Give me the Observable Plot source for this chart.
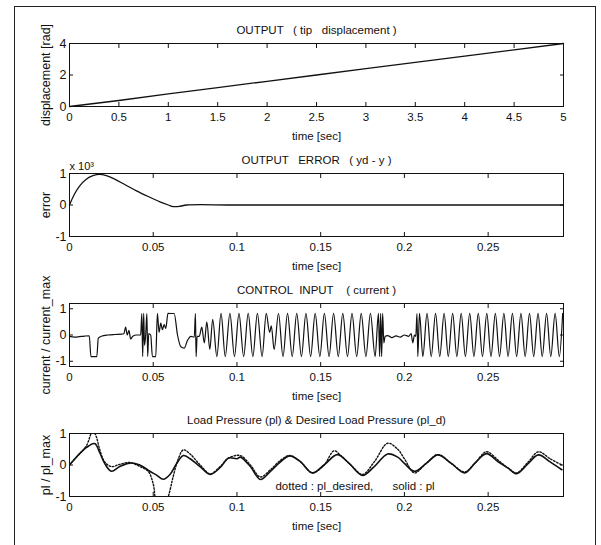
<!DOCTYPE html>
<html><head><meta charset="utf-8">
<script src="https://cdn.jsdelivr.net/npm/d3@7"></script>
<script src="https://cdn.jsdelivr.net/npm/@observablehq/plot@0.6"></script>
<style>
body{margin:0;background:#fff;}
#wrap{position:relative;width:601px;height:545px;overflow:hidden;font-family:"Liberation Sans",Arial,sans-serif;}
#border{position:absolute;left:14px;top:6px;width:580px;height:560px;border:1px solid #222;}
.panel{position:absolute;left:0;}
.panel svg{overflow:visible;}
svg text{white-space:pre;}
</style></head><body><div id="wrap"><div id="border"></div></div>
<script>
// ---------- Panel 1: OUTPUT (tip displacement) ----------
const dispT = [0, 0.5, 1, 1.5, 2, 2.5, 3, 3.5, 4, 4.5, 5];
const dispV = [0, 0.38, 0.8, 1.2, 1.6, 2.0, 2.4, 2.8, 3.2, 3.6, 4.0];
const dispXTicks = [0, 0.5, 1, 1.5, 2, 2.5, 3, 3.5, 4, 4.5, 5];
const dispYTicks = [0, 2, 4];

// ---------- Panel 2: OUTPUT ERROR (yd - y), x 10^-3 ----------
const errT = [0, 0.003, 0.006, 0.01, 0.014, 0.018, 0.022, 0.027, 0.033, 0.04, 0.047, 0.054, 0.059, 0.062, 0.066, 0.07, 0.1, 0.2, 0.295];
const errV = [0, 0.35, 0.6, 0.82, 0.93, 0.97, 0.93, 0.82, 0.65, 0.45, 0.27, 0.1, 0.0, -0.05, -0.04, 0, 0, 0, 0];

// ---------- Panel 3: CONTROL INPUT (current) ----------
const ctrlT = [
  0, 0.003, 0.006, 0.009, 0.0118, 0.0128, 0.0163, 0.0172, 0.019, 0.023, 0.027, 0.031,
  0.0325, 0.0335, 0.0345, 0.0355, 0.0365, 0.0378, 0.040, 0.0425,
  0.0432, 0.0437, 0.0443, 0.0448, 0.0455, 0.0462, 0.0467, 0.0473, 0.0485,
  0.0495, 0.0515, 0.0525, 0.0535, 0.0545, 0.0555, 0.0565, 0.0575, 0.0588, 0.0625,
  0.0645, 0.0665, 0.0685, 0.0705, 0.0725, 0.0745, 0.0752, 0.0756, 0.0762, 0.0775,
  0.079, 0.0805, 0.082, 0.0838, 0.0855,
  0.0880, 0.0905, 0.0930, 0.0958, 0.0985, 0.1012, 0.1040, 0.1067, 0.1095, 0.1122, 0.1150, 0.1175,
  0.1195, 0.1205, 0.1222, 0.1248, 0.1275, 0.1302, 0.1330, 0.1357, 0.1385, 0.1412, 0.1440,
  0.1467, 0.1495, 0.1522, 0.1550, 0.1577, 0.1605, 0.1632, 0.1660, 0.1687, 0.1715, 0.1742,
  0.1770, 0.1797, 0.1825, 0.1845, 0.1852, 0.1858, 0.1864, 0.1870, 0.1877, 0.1885,
  0.190, 0.1925, 0.195, 0.1975, 0.200, 0.2025, 0.2040, 0.2050, 0.2060, 0.2068,
  0.2075, 0.2080, 0.2090, 0.2110, 0.2135, 0.2160, 0.2186, 0.2211, 0.2237, 0.2262, 0.2288,
  0.2313, 0.2339, 0.2364, 0.2390, 0.2415, 0.2441, 0.2466, 0.2492, 0.2517, 0.2543, 0.2568,
  0.2594, 0.2619, 0.2645, 0.2670, 0.2696, 0.2721, 0.2747, 0.2772, 0.2798, 0.2823, 0.2849,
  0.2874, 0.2900, 0.2925, 0.2945
];
const ctrlV = [
  -0.05, -0.08, -0.06, -0.04, -0.03, -0.82, -0.82, -0.12, -0.05, 0.0, 0.02, 0.03,
  0.05, 0.3, 0.0, 0.18, -0.15, -0.05, 0.0, 0.0,
  0.82, -0.82, 0.82, -0.4, 0.0, 0.82, -0.82, 0.05, 0.0,
  -0.82, -0.82, 0.82, 0.1, 0.45, 0.2, 0.4, 0.25, 0.82, 0.82,
  0.0, -0.45, -0.5, -0.2, -0.05, -0.08, 0.82, -0.82, -0.05, -0.05,
  0.3, -0.3, 0.5, -0.55, 0.6,
  -0.82, 0.82, -0.82, 0.82, -0.82, 0.82, -0.82, 0.82, -0.82, 0.82, -0.82, 0.82,
  0.1, 0.35, -0.55, 0.82, -0.82, 0.82, -0.82, 0.82, -0.82, 0.82, -0.82,
  0.82, -0.82, 0.82, -0.82, 0.82, -0.82, 0.82, -0.82, 0.82, -0.82, 0.82,
  -0.82, 0.82, -0.82, 0.82, -0.82, 0.82, -0.82, 0.82, -0.3, -0.05,
  -0.02, -0.1, -0.03, -0.08, 0.0, -0.05, 0.05, -0.3, 0.0, -0.05,
  0.82, -0.82, 0.82, -0.82, 0.82, -0.82, 0.82, -0.82, 0.82, -0.82, 0.82,
  -0.82, 0.82, -0.82, 0.82, -0.82, 0.82, -0.82, 0.82, -0.82, 0.82, -0.82,
  0.82, -0.82, 0.82, -0.82, 0.82, -0.82, 0.82, -0.82, 0.82, -0.82, 0.82,
  -0.82, 0.82, -0.82, 0.82
];

// ---------- Panel 4: Load pressure ----------
const plT = [0, 0.005, 0.01, 0.015, 0.018, 0.021, 0.025, 0.03, 0.036, 0.042, 0.048, 0.052, 0.056, 0.06, 0.064, 0.068, 0.072, 0.078, 0.084, 0.09, 0.095, 0.1, 0.102, 0.108, 0.114, 0.12, 0.126, 0.1315, 0.138, 0.145, 0.152, 0.16, 0.167, 0.175, 0.182, 0.19, 0.196, 0.2, 0.206, 0.213, 0.22, 0.228, 0.236, 0.242, 0.249, 0.256, 0.262, 0.267, 0.274, 0.28, 0.287, 0.294];
const plV = [0, 0.3, 0.55, 0.68, 0.4, 0.05, -0.2, -0.05, 0.06, 0.0, -0.2, -0.32, -0.45, -0.3, 0.05, 0.3, 0.2, -0.05, -0.3, -0.08, 0.22, 0.2, 0.25, -0.05, -0.46, -0.2, 0.1, 0.29, 0.1, -0.25, 0.0, 0.33, 0.05, -0.33, -0.05, 0.35, 0.25, 0.05, -0.2, 0.05, 0.32, 0.05, -0.25, 0.05, 0.36, 0.1, -0.1, -0.28, 0.05, 0.32, 0.1, -0.15];
const pldT = [0, 0.005, 0.01, 0.014, 0.016, 0.018, 0.021, 0.025, 0.03, 0.036, 0.042, 0.047, 0.05, 0.052, 0.056, 0.059, 0.062, 0.065, 0.068, 0.072, 0.078, 0.084, 0.09, 0.095, 0.102, 0.108, 0.114, 0.12, 0.126, 0.1315, 0.138, 0.145, 0.152, 0.158, 0.162, 0.168, 0.175, 0.182, 0.19, 0.196, 0.2, 0.206, 0.213, 0.22, 0.228, 0.236, 0.242, 0.249, 0.256, 0.262, 0.267, 0.274, 0.28, 0.287, 0.294];
const pldV = [0, 0.3, 0.6, 1.1, 0.9, 0.5, 0.1, -0.05, 0.02, 0.08, -0.05, -0.2, -0.6, -1.2, -1.4, -1.0, -0.35, 0.2, 0.48, 0.35, 0.0, -0.28, -0.05, 0.22, 0.3, 0.0, -0.38, -0.15, 0.15, 0.3, 0.1, -0.25, 0.0, 0.45, 0.3, 0.0, -0.3, 0.1, 0.69, 0.5, 0.2, -0.25, 0.05, 0.33, 0.05, -0.22, 0.05, 0.42, 0.15, -0.1, -0.25, 0.1, 0.42, 0.2, 0.0];
const plNote = {t: 0.123, v: -0.68, s: "dotted : pl_desired,      solid : pl"};

const timeTicks = [0, 0.05, 0.1, 0.15, 0.2, 0.25];
const unitTicks = [-1, 0, 1];

const FONT = '"Liberation Sans", Arial, sans-serif';
const zip = (T, V) => T.map((t, i) => ({t, v: V[i]}));
const fmt = d => String(d);

function panel(top, {title, xDomain, xTicks, yDomain, yTicks, ylabel, marks}) {
  const chart = Plot.plot({
    width: 601, height: 130,
    marginLeft: 69, marginRight: 38, marginTop: 30, marginBottom: 37,
    style: {fontFamily: FONT, fontSize: "11.5px", background: "transparent", color: "#111"},
    x: {domain: xDomain},
    y: {domain: yDomain},
    marks: [
      ...marks,
      Plot.frame({stroke: "#111", strokeWidth: 1}),
      Plot.axisX({ticks: xTicks, anchor: "bottom", tickSize: -4, tickPadding: 10, tickFormat: fmt, label: "time [sec]", labelAnchor: "center", labelOffset: 33, labelArrow: "none", fontSize: 11.5}),
      Plot.axisX({ticks: xTicks, anchor: "top", tickSize: -4, tickFormat: () => "", label: null}),
      Plot.axisY({ticks: yTicks, anchor: "left", tickSize: -4, tickPadding: 7, tickFormat: fmt, label: ylabel, labelAnchor: "center", labelOffset: 28, labelArrow: "none", fontSize: 12.5}),
      Plot.axisY({ticks: yTicks, anchor: "right", tickSize: -4, tickFormat: () => "", label: null}),
      Plot.text([title], {frameAnchor: "top", dy: -18, text: d => d, fontSize: 11.5})
    ]
  });
  const div = document.createElement("div");
  div.className = "panel";
  div.style.top = top + "px";
  div.appendChild(chart);
  document.getElementById("wrap").appendChild(div);
  return chart;
}

panel(13, {
  title: "OUTPUT   ( tip   displacement )",
  xDomain: [0, 5], xTicks: dispXTicks, yDomain: [0, 4], yTicks: dispYTicks,
  ylabel: "displacement [rad]",
  marks: [Plot.line(zip(dispT, dispV), {x: "t", y: "v", stroke: "#111", strokeWidth: 1.3})]
});

panel(143, {
  title: "OUTPUT   ERROR   ( yd - y )",
  xDomain: [0, 0.295], xTicks: timeTicks, yDomain: [-1, 1], yTicks: unitTicks,
  ylabel: "error",
  marks: [
    Plot.line(zip(errT, errV), {x: "t", y: "v", stroke: "#111", strokeWidth: 1.3, curve: "catmull-rom"}),
    Plot.text(["x 10³"], {frameAnchor: "top-left", dy: -11, dx: 0, textAnchor: "start", text: d => d, fontSize: 11})
  ]
});

panel(273, {
  title: "CONTROL  INPUT    ( current )",
  xDomain: [0, 0.295], xTicks: timeTicks, yDomain: [-1.2, 1.2], yTicks: unitTicks,
  ylabel: "current / current_max",
  marks: [Plot.line(zip(ctrlT, ctrlV), {x: "t", y: "v", stroke: "#111", strokeWidth: 1.2, curve: "monotone-x", clip: true})]
});

panel(403, {
  title: "Load Pressure (pl) & Desired Load Pressure (pl_d)",
  xDomain: [0, 0.295], xTicks: timeTicks, yDomain: [-1, 1], yTicks: unitTicks,
  ylabel: "pl / pl_max",
  marks: [
    Plot.line(zip(plT, plV), {x: "t", y: "v", stroke: "#111", strokeWidth: 1.6, curve: "catmull-rom", clip: true}),
    Plot.line(zip(pldT, pldV), {x: "t", y: "v", stroke: "#111", strokeWidth: 1.4, strokeDasharray: "1.5,1.8", curve: "catmull-rom", clip: true}),
    Plot.text([plNote], {x: "t", y: "v", text: "s", textAnchor: "start", fontSize: 11.5})
  ]
});
</script></body></html>
